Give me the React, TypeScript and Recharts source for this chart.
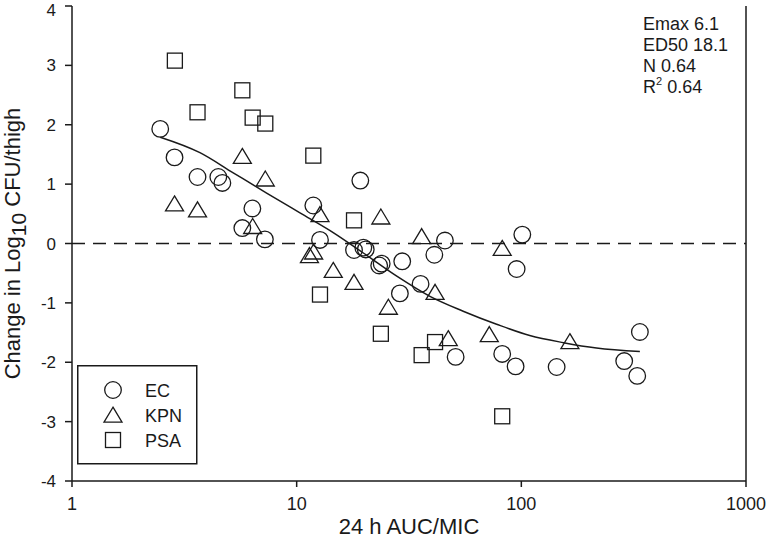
import {
  ComposedChart,
  Line,
  ReferenceLine,
  Scatter,
  XAxis,
  YAxis,
} from "recharts";

const INK = "#1a1a1a";
const FONT = "'Liberation Sans', Arial, sans-serif";

// 24 h AUC/MIC vs change in log10 CFU/thigh
const ecAuc = [2.47, 2.86, 3.62, 4.48, 4.67, 6.35, 5.73, 7.22, 11.86, 12.7, 19.2, 18.0, 19.8, 20.3, 23.3, 23.9, 29.5, 28.8, 35.6, 41.0, 45.7, 101, 95.3, 51.0, 82.2, 94.3, 143.6, 287, 328, 337];
const ecChange = [1.93, 1.45, 1.12, 1.12, 1.02, 0.59, 0.26, 0.07, 0.64, 0.06, 1.06, -0.11, -0.07, -0.1, -0.37, -0.34, -0.3, -0.84, -0.68, -0.19, 0.05, 0.15, -0.43, -1.91, -1.86, -2.07, -2.08, -1.98, -2.23, -1.49];

const kpnAuc = [2.86, 3.62, 5.73, 7.25, 6.37, 11.4, 11.9, 12.7, 14.55, 18.0, 23.7, 25.6, 36.0, 41.3, 47.3, 72.0, 82.2, 164.5];
const kpnChange = [0.67, 0.57, 1.47, 1.09, 0.29, -0.2, -0.14, 0.49, -0.45, -0.65, 0.45, -1.07, 0.12, -0.82, -1.6, -1.53, -0.08, -1.65];

const psaAuc = [2.87, 5.73, 3.62, 6.37, 7.25, 11.86, 18.0, 12.7, 23.7, 36.0, 41.3, 82.2];
const psaChange = [3.08, 2.58, 2.21, 2.12, 2.02, 1.48, 0.39, -0.86, -1.52, -1.88, -1.66, -2.91];

// fitted Emax curve
const fitAuc = [2.47, 3.71, 5.22, 7.35, 10.3, 14.6, 19.8, 27.9, 39.2, 55.1, 77.6, 109, 154, 216, 337];
const fitChange = [1.79, 1.53, 1.19, 0.85, 0.52, 0.18, -0.16, -0.55, -0.89, -1.14, -1.36, -1.55, -1.67, -1.76, -1.82];

const xTicks = [1, 10, 100, 1000];
const yTicks = [-4, -3, -2, -1, 0, 1, 2, 3, 4];

const fitLines = ["Emax 6.1", "ED50 18.1", "N 0.64"];

const zip = (xs: number[], ys: number[]) => xs.map((x, i) => ({ x, y: ys[i] }));

const ecData = zip(ecAuc, ecChange);
const kpnData = zip(kpnAuc, kpnChange);
const psaData = zip(psaAuc, psaChange);
const fitData = zip(fitAuc, fitChange);

type ShapeProps = { cx?: number; cy?: number };
type Box = { x: number; y: number; width: number; height: number };

function CircleMark({ cx = 0, cy = 0 }: ShapeProps) {
  return <circle cx={cx} cy={cy} r={8.3} fill="none" stroke={INK} strokeWidth={1.3} />;
}

function TriangleMark({ cx = 0, cy = 0 }: ShapeProps) {
  const pts = `${cx},${cy - 7.8} ${cx + 9},${cy + 7.2} ${cx - 9},${cy + 7.2}`;
  return <polygon points={pts} fill="none" stroke={INK} strokeWidth={1.3} />;
}

function SquareMark({ cx = 0, cy = 0 }: ShapeProps) {
  return <rect x={cx - 7.5} y={cy - 7.5} width={15} height={15} fill="none" stroke={INK} strokeWidth={1.3} />;
}

function YTitle({ viewBox }: { viewBox?: Box }) {
  const vb = viewBox ?? { x: 0, y: 0, width: 0, height: 0 };
  const cy = vb.y + vb.height / 2;
  return (
    <text
      transform={`translate(20, ${cy}) rotate(-90)`}
      textAnchor="middle"
      fontFamily={FONT}
      fontSize={22}
      fill={INK}
    >
      Change in Log<tspan fontSize={21} dy={6}>10</tspan>
      <tspan dy={-6}> CFU/thigh</tspan>
    </text>
  );
}

function XTitle({ viewBox }: { viewBox?: Box }) {
  const vb = viewBox ?? { x: 0, y: 0, width: 0, height: 0 };
  return (
    <text x={vb.x + vb.width / 2} y={534} textAnchor="middle" fontFamily={FONT} fontSize={22} fill={INK}>
      24 h AUC/MIC
    </text>
  );
}

const legendRows = [
  { name: "EC", Mark: CircleMark },
  { name: "KPN", Mark: TriangleMark },
  { name: "PSA", Mark: SquareMark },
];

export default function App() {
  return (
    <div style={{ position: "absolute", left: 0, top: 0, width: 766, height: 540, background: "#fff" }}>
      <ComposedChart width={766} height={540} margin={{ top: 6, right: 20, left: 0, bottom: 0 }}>
        <XAxis
          dataKey="x"
          type="number"
          scale="log"
          domain={[1, 1000]}
          ticks={xTicks}
          allowDataOverflow
          height={59}
          stroke={INK}
          strokeWidth={1.5}
          tickSize={6}
          tickMargin={10}
          tick={{ fontSize: 18, fontFamily: FONT, fill: INK }}
          label={<XTitle />}
        />
        <YAxis
          dataKey="y"
          type="number"
          domain={[-4, 4]}
          ticks={yTicks}
          allowDataOverflow
          width={72}
          stroke={INK}
          strokeWidth={1.5}
          tickSize={7}
          tickMargin={9}
          tick={{ fontSize: 17, fontFamily: FONT, fill: INK }}
          label={<YTitle />}
        />
        <ReferenceLine y={0} stroke={INK} strokeWidth={1.3} strokeDasharray="13 8" />
        <ReferenceLine x={1000} stroke={INK} strokeWidth={1.5} />
        <Line
          data={fitData}
          dataKey="y"
          type="monotone"
          dot={false}
          stroke={INK}
          strokeWidth={1.5}
          isAnimationActive={false}
        />
        <Scatter name="EC" data={ecData} shape={<CircleMark />} isAnimationActive={false} />
        <Scatter name="KPN" data={kpnData} shape={<TriangleMark />} isAnimationActive={false} />
        <Scatter name="PSA" data={psaData} shape={<SquareMark />} isAnimationActive={false} />
      </ComposedChart>
      <svg
        width={121}
        height={100}
        style={{ position: "absolute", left: 77, top: 365, pointerEvents: "none" }}
      >
        <rect x={0.75} y={0.75} width={119} height={98} fill="#fff" stroke={INK} strokeWidth={1.5} />
        {legendRows.map((r, i) => (
          <g key={r.name}>
            <r.Mark cx={36} cy={25 + i * 25} />
            <text x={68} y={31.5 + i * 25} fontFamily={FONT} fontSize={18} fill={INK}>
              {r.name}
            </text>
          </g>
        ))}
      </svg>
      <svg
        width={130}
        height={100}
        style={{ position: "absolute", left: 640, top: 0, pointerEvents: "none" }}
      >
        {fitLines.map((t, i) => (
          <text key={t} x={3} y={30 + i * 21} fontFamily={FONT} fontSize={18} fill={INK}>
            {t}
          </text>
        ))}
        <text x={3} y={93} fontFamily={FONT} fontSize={18} fill={INK}>
          R<tspan fontSize={11} dy={-8}>2</tspan>
          <tspan dy={8}> 0.64</tspan>
        </text>
      </svg>
    </div>
  );
}
